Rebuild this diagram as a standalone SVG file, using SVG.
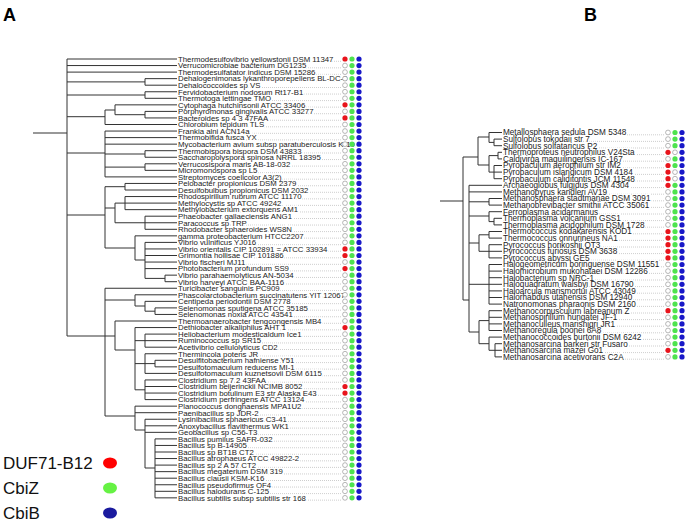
<svg xmlns="http://www.w3.org/2000/svg" xmlns:xlink="http://www.w3.org/1999/xlink" width="685" height="528" viewBox="0 0 685 528">
<style>
.bg{fill:#fff}
.tree{fill:none;stroke:#333;stroke-width:1}
.stub{fill:none;stroke:#777;stroke-width:1.4}
.lead{fill:none;stroke:#999;stroke-width:0.6;stroke-dasharray:0.8 1.2}
.la text{font-family:"Liberation Sans",Arial,sans-serif;font-size:7.8px;fill:#222}
.lb text{font-family:"Liberation Sans",Arial,sans-serif;font-size:8.2px;fill:#222}
.r{fill:#e8141c}
.g{fill:#4ee34e}
.b{fill:#1818c8}
.e{fill:#fff;stroke:#888;stroke-width:0.6}
.panel{font-family:"Liberation Sans",Arial,sans-serif;font-size:18px;font-weight:bold;fill:#000}
.leg{font-family:"Liberation Sans",Arial,sans-serif;font-size:17px;fill:#111}
</style>
<defs>
<g id="rgb"><circle cx="0" r="2.6" class="r"/><circle cx="7" r="2.6" class="g"/><circle cx="14" r="2.6" class="b"/></g>
<g id="rge"><circle cx="0" r="2.6" class="r"/><circle cx="7" r="2.6" class="g"/><circle cx="14" r="2.4" class="e"/></g>
<g id="reb"><circle cx="0" r="2.6" class="r"/><circle cx="7" r="2.4" class="e"/><circle cx="14" r="2.6" class="b"/></g>
<g id="ree"><circle cx="0" r="2.6" class="r"/><circle cx="7" r="2.4" class="e"/><circle cx="14" r="2.4" class="e"/></g>
<g id="egb"><circle cx="0" r="2.4" class="e"/><circle cx="7" r="2.6" class="g"/><circle cx="14" r="2.6" class="b"/></g>
<g id="ege"><circle cx="0" r="2.4" class="e"/><circle cx="7" r="2.6" class="g"/><circle cx="14" r="2.4" class="e"/></g>
<g id="eeb"><circle cx="0" r="2.4" class="e"/><circle cx="7" r="2.4" class="e"/><circle cx="14" r="2.6" class="b"/></g>
<g id="eee"><circle cx="0" r="2.4" class="e"/><circle cx="7" r="2.4" class="e"/><circle cx="14" r="2.4" class="e"/></g>
<mask id="mA" maskUnits="userSpaceOnUse" x="0" y="0" width="685" height="528">
<rect x="0" y="0" width="685" height="528" fill="#fff"/>
<use href="#leavesA" style="stroke:#000;stroke-width:3"/>
</mask>
<mask id="mB" maskUnits="userSpaceOnUse" x="0" y="0" width="685" height="528">
<rect x="0" y="0" width="685" height="528" fill="#fff"/>
<use href="#leavesB" style="stroke:#000;stroke-width:3"/>
</mask>
</defs>
<rect class="bg" x="0" y="0" width="685" height="528"/>
<text class="panel" x="3" y="21">A</text>
<text class="panel" x="584" y="21">B</text>

<g id="connectors">
<path class="stub" d="M33 133H67M440 201H463"/>
<path class="tree" d="M67 59V336
M67 81.9H145M145 78.65V85.2
M67 95H145M145 91.75V98.3
M67 116.7H105M105 110V124.5M105 110H115M115 104.85V114.7M115 114.7H145M145 111.4V117.95
M67 153H105M105 131.05V176.9M105 154H145M145 150.7V157.25M105 167.1H145M145 163.8V170.35
M67 215H105M105 186.7V248M105 186.7H125M125 183.45V190M105 208H115M115 203.1V222.75M115 203.1H125M125 196.55V209.65M115 222.75H145M145 216.2V229.3
M105 248H135M135 235.85V260M135 260H145M145 242.4V278.4M145 278.4H165M165 275.15V281.7
M67 336H105M105 288.25V416M105 300H135M135 294.8V306M135 306H145M145 301.35V311.2M145 311.2H155M155 307.9V314.45
M105 336H115M115 321V350M115 350H135M135 327.55V389.8M135 340.65H145M145 334.1V347.2M135 363.6H145M145 353.75V373.4M145 363.6H155M155 360.3V366.85M135 389.8H145M145 379.95V399.6
M105 416H135M135 406.15V430M135 430H145M145 419.25V468M145 468H155M155 438.9V497.85
M67 59H177M67 65.55H177M67 72.1H177M145 78.65H177M145 85.2H177M145 91.75H177M145 98.3H177M115 104.85H177M145 111.4H177M145 117.95H177M105 124.5H177
M105 131.05H177M105 137.6H177M105 144.15H177M145 150.7H177M145 157.25H177M145 163.8H177M145 170.35H177M105 176.9H177
M125 183.45H177M125 190H177M125 196.55H177M125 203.1H177M125 209.65H177M145 216.2H177M145 222.75H177M145 229.3H177M135 235.85H177
M145 242.4H177M145 248.95H177M145 255.5H177M145 262.05H177M145 268.6H177M165 275.15H177M165 281.7H177
M105 288.25H177M135 294.8H177M145 301.35H177M155 307.9H177M155 314.45H177M115 321H177M135 327.55H177
M145 334.1H177M145 340.65H177M145 347.2H177M145 353.75H177M155 360.3H177M155 366.85H177M145 373.4H177
M145 379.95H177M145 386.5H177M145 393.05H177M145 399.6H177M135 406.15H177M135 412.7H177
M145 419.25H177M145 425.8H177M145 432.35H177
M155 438.9H177M155 445.45H177M155 452H177M155 458.55H177M155 465.1H177M155 471.65H177M155 478.2H177M155 484.75H177M155 491.3H177M155 497.85H177"/>
<path class="tree" d="M463 157V300
M463 157H478M478 137V165M478 137H489M489 132.5V142.4M489 142.4H494M494 139.1V145.7M478 165H489M489 155.6V172.1M489 155.6H498M498 152.3V158.9M489 172.1H494M494 165.5V178.7
M463 300H469M469 185.3V332M469 201.8H489M489 198.5V205.1M469 216H489M489 211.7V221.6M489 221.6H494M494 218.3V224.9
M469 243H479M479 234.8V251.3M479 234.8H489M489 231.5V238.1M479 251.3H489M489 244.7V257.9
M469 284.3H489M489 264.5V304.1M469 332H479M479 320.6V343.7M479 320.6H489M489 310.7V330.5M479 343.7H489M489 337.1V350.3M489 350.3H495M495 343.7V356.9
M489 132.5H502M494 139.1H502M494 145.7H502M498 152.3H502M498 158.9H502M494 165.5H502M494 172.1H502M494 178.7H502
M469 185.3H502M469 191.9H502M489 198.5H502M489 205.1H502M489 211.7H502M494 218.3H502M494 224.9H502
M489 231.5H502M489 238.1H502M489 244.7H502M489 251.3H502M489 257.9H502
M489 264.5H502M489 271.1H502M489 277.7H502M489 284.3H502M489 290.9H502M489 297.5H502M489 304.1H502
M489 310.7H502M489 317.3H502M489 323.9H502M489 330.5H502M489 337.1H502M495 343.7H502M495 350.3H502M495 356.9H502"/>
<path class="lead" mask="url(#mA)" d="M178 61.3H341M178 67.85H341M178 74.4H341M178 80.95H341M178 87.5H341M178 94.05H341M178 100.6H341M178 107.15H341M178 113.7H341M178 120.25H341M178 126.8H341M178 133.35H341M178 139.9H341M178 146.45H341M178 153H341M178 159.55H341M178 166.1H341M178 172.65H341M178 179.2H341M178 185.75H341M178 192.3H341M178 198.85H341M178 205.4H341M178 211.95H341M178 218.5H341M178 225.05H341M178 231.6H341M178 238.15H341M178 244.7H341M178 251.25H341M178 257.8H341M178 264.35H341M178 270.9H341M178 277.45H341M178 284H341M178 290.55H341M178 297.1H341M178 303.65H341M178 310.2H341M178 316.75H341M178 323.3H341M178 329.85H341M178 336.4H341M178 342.95H341M178 349.5H341M178 356.05H341M178 362.6H341M178 369.15H341M178 375.7H341M178 382.25H341M178 388.8H341M178 395.35H341M178 401.9H341M178 408.45H341M178 415H341M178 421.55H341M178 428.1H341M178 434.65H341M178 441.2H341M178 447.75H341M178 454.3H341M178 460.85H341M178 467.4H341M178 473.95H341M178 480.5H341M178 487.05H341M178 493.6H341M178 500.15H341"/>
<path class="lead" mask="url(#mB)" d="M503 134.8H664M503 141.4H664M503 148H664M503 154.6H664M503 161.2H664M503 167.8H664M503 174.4H664M503 181H664M503 187.6H664M503 194.2H664M503 200.8H664M503 207.4H664M503 214H664M503 220.6H664M503 227.2H664M503 233.8H664M503 240.4H664M503 247H664M503 253.6H664M503 260.2H664M503 266.8H664M503 273.4H664M503 280H664M503 286.6H664M503 293.2H664M503 299.8H664M503 306.4H664M503 313H664M503 319.6H664M503 326.2H664M503 332.8H664M503 339.4H664M503 346H664M503 352.6H664M503 359.2H664"/>
</g>

<g id="leavesA" class="la">
<g id="a01" transform="translate(0 59)"><text x="178" y="2.8">Thermodesulfovibrio yellowstonii DSM 11347</text><use href="#rgb" x="345"/></g>
<g id="a02" transform="translate(0 65.55)"><text x="178" y="2.8">Verrucomicrobiae bacterium DG1235</text><use href="#egb" x="345"/></g>
<g id="a03" transform="translate(0 72.1)"><text x="178" y="2.8">Thermodesulfatator indicus DSM 15286</text><use href="#egb" x="345"/></g>
<g id="a04" transform="translate(0 78.65)"><text x="178" y="2.8">Dehalogenimonas lykanthroporepellens BL-DC-9</text><use href="#egb" x="345"/></g>
<g id="a05" transform="translate(0 85.2)"><text x="178" y="2.8">Dehalococcoides sp VS</text><use href="#egb" x="345"/></g>
<g id="a06" transform="translate(0 91.75)"><text x="178" y="2.8">Fervidobacterium nodosum Rt17-B1</text><use href="#egb" x="345"/></g>
<g id="a07" transform="translate(0 98.3)"><text x="178" y="2.8">Thermotoga lettingae TMO</text><use href="#egb" x="345"/></g>
<g id="a08" transform="translate(0 104.85)"><text x="178" y="2.8">Cytophaga hutchinsonii ATCC 33406</text><use href="#rgb" x="345"/></g>
<g id="a09" transform="translate(0 111.4)"><text x="178" y="2.8">Porphyromonas gingivalis ATCC 33277</text><use href="#egb" x="345"/></g>
<g id="a10" transform="translate(0 117.95)"><text x="178" y="2.8">Bacteroides sp 4 3 47FAA</text><use href="#rgb" x="345"/></g>
<g id="a11" transform="translate(0 124.5)"><text x="178" y="2.8">Chlorobium tepidum TLS</text><use href="#egb" x="345"/></g>
<g id="a12" transform="translate(0 131.05)"><text x="178" y="2.8">Frankia alni ACN14a</text><use href="#egb" x="345"/></g>
<g id="a13" transform="translate(0 137.6)"><text x="178" y="2.8">Thermobifida fusca YX</text><use href="#egb" x="345"/></g>
<g id="a14" transform="translate(0 144.15)"><text x="178" y="2.8">Mycobacterium avium subsp paratuberculosis K-10</text><use href="#egb" x="345"/></g>
<g id="a15" transform="translate(0 150.7)"><text x="178" y="2.8">Thermobispora bispora DSM 43833</text><use href="#egb" x="345"/></g>
<g id="a16" transform="translate(0 157.25)"><text x="178" y="2.8">Saccharopolyspora spinosa NRRL 18395</text><use href="#egb" x="345"/></g>
<g id="a17" transform="translate(0 163.8)"><text x="178" y="2.8">Verrucosispora maris AB-18-032</text><use href="#egb" x="345"/></g>
<g id="a18" transform="translate(0 170.35)"><text x="178" y="2.8">Micromonospora sp L5</text><use href="#egb" x="345"/></g>
<g id="a19" transform="translate(0 176.9)"><text x="178" y="2.8">Streptomyces coelicolor A3(2)</text><use href="#egb" x="345"/></g>
<g id="a20" transform="translate(0 183.45)"><text x="178" y="2.8">Pelobacter propionicus DSM 2379</text><use href="#egb" x="345"/></g>
<g id="a21" transform="translate(0 190)"><text x="178" y="2.8">Desulfobulbus propionicus DSM 2032</text><use href="#egb" x="345"/></g>
<g id="a22" transform="translate(0 196.55)"><text x="178" y="2.8">Rhodospirillum rubrum ATCC 11170</text><use href="#egb" x="345"/></g>
<g id="a23" transform="translate(0 203.1)"><text x="178" y="2.8">Methylocystis sp ATCC 49242</text><use href="#egb" x="345"/></g>
<g id="a24" transform="translate(0 209.65)"><text x="178" y="2.8">Methylobacterium extorquens AM1</text><use href="#egb" x="345"/></g>
<g id="a25" transform="translate(0 216.2)"><text x="178" y="2.8">Phaeobacter gallaeciensis ANG1</text><use href="#egb" x="345"/></g>
<g id="a26" transform="translate(0 222.75)"><text x="178" y="2.8">Paracoccus sp TRP</text><use href="#egb" x="345"/></g>
<g id="a27" transform="translate(0 229.3)"><text x="178" y="2.8">Rhodobacter sphaeroides WS8N</text><use href="#egb" x="345"/></g>
<g id="a28" transform="translate(0 235.85)"><text x="178" y="2.8">gamma proteobacterium HTCC2207</text><use href="#egb" x="345"/></g>
<g id="a29" transform="translate(0 242.4)"><text x="178" y="2.8">Vibrio vulnificus YJ016</text><use href="#egb" x="345"/></g>
<g id="a30" transform="translate(0 248.95)"><text x="178" y="2.8">Vibrio orientalis CIP 102891 = ATCC 33934</text><use href="#rgb" x="345"/></g>
<g id="a31" transform="translate(0 255.5)"><text x="178" y="2.8">Grimontia hollisae CIP 101886</text><use href="#rgb" x="345"/></g>
<g id="a32" transform="translate(0 262.05)"><text x="178" y="2.8">Vibrio fischeri MJ11</text><use href="#egb" x="345"/></g>
<g id="a33" transform="translate(0 268.6)"><text x="178" y="2.8">Photobacterium profundum SS9</text><use href="#rgb" x="345"/></g>
<g id="a34" transform="translate(0 275.15)"><text x="178" y="2.8">Vibrio parahaemolyticus AN-5034</text><use href="#egb" x="345"/></g>
<g id="a35" transform="translate(0 281.7)"><text x="178" y="2.8">Vibrio harveyi ATCC BAA-1116</text><use href="#egb" x="345"/></g>
<g id="a36" transform="translate(0 288.25)"><text x="178" y="2.8">Turicibacter sanguinis PC909</text><use href="#egb" x="345"/></g>
<g id="a37" transform="translate(0 294.8)"><text x="178" y="2.8">Phascolarctobacterium succinatutens YIT 12067</text><use href="#egb" x="345"/></g>
<g id="a38" transform="translate(0 301.35)"><text x="178" y="2.8">Centipeda periodontii DSM 2778</text><use href="#egb" x="345"/></g>
<g id="a39" transform="translate(0 307.9)"><text x="178" y="2.8">Selenomonas sputigena ATCC 35185</text><use href="#egb" x="345"/></g>
<g id="a40" transform="translate(0 314.45)"><text x="178" y="2.8">Selenomonas noxia ATCC 43541</text><use href="#egb" x="345"/></g>
<g id="a41" transform="translate(0 321)"><text x="178" y="2.8">Thermoanaerobacter tengcongensis MB4</text><use href="#egb" x="345"/></g>
<g id="a42" transform="translate(0 327.55)"><text x="178" y="2.8">Dethiobacter alkaliphilus AHT 1</text><use href="#rgb" x="345"/></g>
<g id="a43" transform="translate(0 334.1)"><text x="178" y="2.8">Heliobacterium modesticaldum Ice1</text><use href="#egb" x="345"/></g>
<g id="a44" transform="translate(0 340.65)"><text x="178" y="2.8">Ruminococcus sp SR15</text><use href="#egb" x="345"/></g>
<g id="a45" transform="translate(0 347.2)"><text x="178" y="2.8">Acetivibrio cellulolyticus CD2</text><use href="#egb" x="345"/></g>
<g id="a46" transform="translate(0 353.75)"><text x="178" y="2.8">Thermincola potens JR</text><use href="#egb" x="345"/></g>
<g id="a47" transform="translate(0 360.3)"><text x="178" y="2.8">Desulfitobacterium hafniense Y51</text><use href="#egb" x="345"/></g>
<g id="a48" transform="translate(0 366.85)"><text x="178" y="2.8">Desulfotomaculum reducens MI-1</text><use href="#egb" x="345"/></g>
<g id="a49" transform="translate(0 373.4)"><text x="178" y="2.8">Desulfotomaculum kuznetsovii DSM 6115</text><use href="#egb" x="345"/></g>
<g id="a50" transform="translate(0 379.95)"><text x="178" y="2.8">Clostridium sp 7 2 43FAA</text><use href="#egb" x="345"/></g>
<g id="a51" transform="translate(0 386.5)"><text x="178" y="2.8">Clostridium beijerinckii NCIMB 8052</text><use href="#rgb" x="345"/></g>
<g id="a52" transform="translate(0 393.05)"><text x="178" y="2.8">Clostridium botulinum E3 str Alaska E43</text><use href="#rgb" x="345"/></g>
<g id="a53" transform="translate(0 399.6)"><text x="178" y="2.8">Clostridium perfringens ATCC 13124</text><use href="#egb" x="345"/></g>
<g id="a54" transform="translate(0 406.15)"><text x="178" y="2.8">Planococcus donghaensis MPA1U2</text><use href="#egb" x="345"/></g>
<g id="a55" transform="translate(0 412.7)"><text x="178" y="2.8">Paenibacillus sp JDR-2</text><use href="#egb" x="345"/></g>
<g id="a56" transform="translate(0 419.25)"><text x="178" y="2.8">Lysinibacillus sphaericus C3-41</text><use href="#egb" x="345"/></g>
<g id="a57" transform="translate(0 425.8)"><text x="178" y="2.8">Anoxybacillus flavithermus WK1</text><use href="#egb" x="345"/></g>
<g id="a58" transform="translate(0 432.35)"><text x="178" y="2.8">Geobacillus sp C56-T3</text><use href="#egb" x="345"/></g>
<g id="a59" transform="translate(0 438.9)"><text x="178" y="2.8">Bacillus pumilus SAFR-032</text><use href="#egb" x="345"/></g>
<g id="a60" transform="translate(0 445.45)"><text x="178" y="2.8">Bacillus sp B-14905</text><use href="#egb" x="345"/></g>
<g id="a61" transform="translate(0 452)"><text x="178" y="2.8">Bacillus sp BT1B CT2</text><use href="#egb" x="345"/></g>
<g id="a62" transform="translate(0 458.55)"><text x="178" y="2.8">Bacillus atrophaeus ATCC 49822-2</text><use href="#egb" x="345"/></g>
<g id="a63" transform="translate(0 465.1)"><text x="178" y="2.8">Bacillus sp 2 A 57 CT2</text><use href="#egb" x="345"/></g>
<g id="a64" transform="translate(0 471.65)"><text x="178" y="2.8">Bacillus megaterium DSM 319</text><use href="#egb" x="345"/></g>
<g id="a65" transform="translate(0 478.2)"><text x="178" y="2.8">Bacillus clausii KSM-K16</text><use href="#egb" x="345"/></g>
<g id="a66" transform="translate(0 484.75)"><text x="178" y="2.8">Bacillus pseudofirmus OF4</text><use href="#egb" x="345"/></g>
<g id="a67" transform="translate(0 491.3)"><text x="178" y="2.8">Bacillus halodurans C-125</text><use href="#egb" x="345"/></g>
<g id="a68" transform="translate(0 497.85)"><text x="178" y="2.8">Bacillus subtilis subsp subtilis str 168</text><use href="#egb" x="345"/></g>
</g>

<g id="leavesB" class="lb">
<g id="b01" transform="translate(0 132.5)"><text x="503" y="2.9">Metallosphaera sedula DSM 5348</text><use href="#egb" x="668"/></g>
<g id="b02" transform="translate(0 139.1)"><text x="503" y="2.9">Sulfolobus tokodaii str 7</text><use href="#egb" x="668"/></g>
<g id="b03" transform="translate(0 145.7)"><text x="503" y="2.9">Sulfolobus solfataricus P2</text><use href="#egb" x="668"/></g>
<g id="b04" transform="translate(0 152.3)"><text x="503" y="2.9">Thermoproteus neutrophilus V24Sta</text><use href="#reb" x="668"/></g>
<g id="b05" transform="translate(0 158.9)"><text x="503" y="2.9">Caldivirga maquilingensis IC-167</text><use href="#egb" x="668"/></g>
<g id="b06" transform="translate(0 165.5)"><text x="503" y="2.9">Pyrobaculum aerophilum str IM2</text><use href="#rgb" x="668"/></g>
<g id="b07" transform="translate(0 172.1)"><text x="503" y="2.9">Pyrobaculum islandicum DSM 4184</text><use href="#reb" x="668"/></g>
<g id="b08" transform="translate(0 178.7)"><text x="503" y="2.9">Pyrobaculum calidifontis JCM 11548</text><use href="#reb" x="668"/></g>
<g id="b09" transform="translate(0 185.3)"><text x="503" y="2.9">Archaeoglobus fulgidus DSM 4304</text><use href="#rgb" x="668"/></g>
<g id="b10" transform="translate(0 191.9)"><text x="503" y="2.9">Methanopyrus kandleri AV19</text><use href="#egb" x="668"/></g>
<g id="b11" transform="translate(0 198.5)"><text x="503" y="2.9">Methanosphaera stadtmanae DSM 3091</text><use href="#egb" x="668"/></g>
<g id="b12" transform="translate(0 205.1)"><text x="503" y="2.9">Methanobrevibacter smithii ATCC 35061</text><use href="#egb" x="668"/></g>
<g id="b13" transform="translate(0 211.7)"><text x="503" y="2.9">Ferroplasma acidarmanus</text><use href="#egb" x="668"/></g>
<g id="b14" transform="translate(0 218.3)"><text x="503" y="2.9">Thermoplasma volcanium GSS1</text><use href="#egb" x="668"/></g>
<g id="b15" transform="translate(0 224.9)"><text x="503" y="2.9">Thermoplasma acidophilum DSM 1728</text><use href="#egb" x="668"/></g>
<g id="b16" transform="translate(0 231.5)"><text x="503" y="2.9">Thermococcus kodakarensis KOD1</text><use href="#rgb" x="668"/></g>
<g id="b17" transform="translate(0 238.1)"><text x="503" y="2.9">Thermococcus onnurineus NA1</text><use href="#rgb" x="668"/></g>
<g id="b18" transform="translate(0 244.7)"><text x="503" y="2.9">Pyrococcus horikoshii OT3</text><use href="#rgb" x="668"/></g>
<g id="b19" transform="translate(0 251.3)"><text x="503" y="2.9">Pyrococcus furiosus DSM 3638</text><use href="#rgb" x="668"/></g>
<g id="b20" transform="translate(0 257.9)"><text x="503" y="2.9">Pyrococcus abyssi GE5</text><use href="#rgb" x="668"/></g>
<g id="b21" transform="translate(0 264.5)"><text x="503" y="2.9">Halogeometricum boringuense DSM 11551</text><use href="#egb" x="668"/></g>
<g id="b22" transform="translate(0 271.1)"><text x="503" y="2.9">Halomicrobium mukohataei DSM 12286</text><use href="#egb" x="668"/></g>
<g id="b23" transform="translate(0 277.7)"><text x="503" y="2.9">Halobacterium sp NRC-1</text><use href="#egb" x="668"/></g>
<g id="b24" transform="translate(0 284.3)"><text x="503" y="2.9">Haloquadratum walsbyi DSM 16790</text><use href="#egb" x="668"/></g>
<g id="b25" transform="translate(0 290.9)"><text x="503" y="2.9">Haloarcula marismortui ATCC 43049</text><use href="#egb" x="668"/></g>
<g id="b26" transform="translate(0 297.5)"><text x="503" y="2.9">Halorhabdus utahensis DSM 12940</text><use href="#egb" x="668"/></g>
<g id="b27" transform="translate(0 304.1)"><text x="503" y="2.9">Natronomonas pharaonis DSM 2160</text><use href="#egb" x="668"/></g>
<g id="b28" transform="translate(0 310.7)"><text x="503" y="2.9">Methanocorpusculum labreanum Z</text><use href="#rgb" x="668"/></g>
<g id="b29" transform="translate(0 317.3)"><text x="503" y="2.9">Methanospirillum hungatei JF-1</text><use href="#egb" x="668"/></g>
<g id="b30" transform="translate(0 323.9)"><text x="503" y="2.9">Methanoculleus marisnigri JR1</text><use href="#egb" x="668"/></g>
<g id="b31" transform="translate(0 330.5)"><text x="503" y="2.9">Methanoregula boonei 6A8</text><use href="#egb" x="668"/></g>
<g id="b32" transform="translate(0 337.1)"><text x="503" y="2.9">Methanococcoides burtonii DSM 6242</text><use href="#egb" x="668"/></g>
<g id="b33" transform="translate(0 343.7)"><text x="503" y="2.9">Methanosarcina barkeri str Fusaro</text><use href="#egb" x="668"/></g>
<g id="b34" transform="translate(0 350.3)"><text x="503" y="2.9">Methanosarcina mazei Go1</text><use href="#rgb" x="668"/></g>
<g id="b35" transform="translate(0 356.9)"><text x="503" y="2.9">Methanosarcina acetivorans C2A</text><use href="#egb" x="668"/></g>
</g>

<g id="legend">
<text class="leg" x="3" y="469">DUF71-B12</text>
<ellipse cx="110" cy="463" rx="7" ry="5.5" fill="#ff0000"/>
<text class="leg" x="3" y="494">CbiZ</text>
<ellipse cx="110" cy="488" rx="7" ry="5.5" fill="#66f244"/>
<text class="leg" x="3" y="519">CbiB</text>
<ellipse cx="110" cy="513" rx="7" ry="5.5" fill="#1a1a9e"/>
</g>
</svg>
